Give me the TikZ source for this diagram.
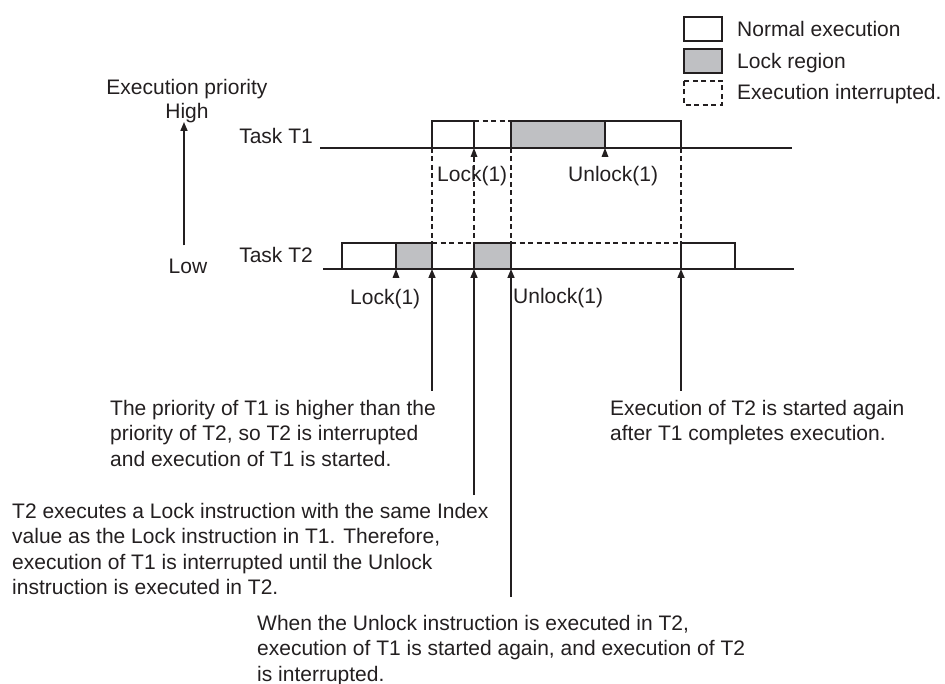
\documentclass[tikz,border=0pt]{standalone}
\usepackage{fontspec}
\setmainfont{Liberation Sans}
\usepackage{xcolor}
\usepackage{tikz}
\usetikzlibrary{arrows.meta, positioning}

\definecolor{lockgray}{RGB}{191,192,195}
\definecolor{ink}{RGB}{35,31,32}
\tikzstyle{arrow} = [line width=1.6pt, draw=ink, -{Triangle[length=9pt, width=7pt]}]
\tikzstyle{runbox} = [draw=ink, line width=1.7pt, fill=white]
\tikzstyle{lockbox} = [draw=ink, line width=1.7pt, fill=lockgray]
\tikzstyle{waitline} = [draw=ink, line width=1.7pt, dash pattern=on 5pt off 3.5pt]
\tikzstyle{timeline} = [draw=ink, line width=1.7pt]
\tikzstyle{note} = [anchor=north west, align=left]
\newcommand{\upmark}[1]{\fill[ink] (#1) -- ++(-3.5,9) -- ++(7,0) -- cycle;}

\begin{document}
\begin{tikzpicture}[x=1pt, y=-1pt, every node/.style={inner sep=0pt, text=ink, font=\fontsize{21}{25.5}\selectfont}]
\useasboundingbox (0,0) rectangle (945,684);

% Legend
\draw[runbox] (684,17) rectangle (722,41);
\draw[lockbox] (684,49) rectangle (722,73);
\draw[waitline] (684,81) rectangle (722,105);
\node (legrun) [anchor=base west] at (737,37) {Normal execution};
\node (leglock) [anchor=base west] at (737,69) {Lock region};
\node (legwait) [anchor=base west] at (737,100) {Execution interrupted.};

% Priority axis
\node (prio) [anchor=base] at (187,95) {Execution priority};
\node (high) [anchor=base] at (187,119) {High};
\node (low) [anchor=base] at (188,274) {Low};
\draw[arrow] (low.north -| 184,0) ++(0,-14) coordinate (lowtop) -- (184,122);

% Task T1
\node (t1) [anchor=base east] at (313,144) {Task T1};
\draw[runbox] (432,121) rectangle (474,148);
\draw[waitline] (474,121) -- (511,121);
\draw[lockbox] (511,121) rectangle (605,148);
\draw[runbox] (605,121) rectangle (681,148);
\draw[timeline] (320,148) -- (792,148);
\upmark{474,148}
\upmark{605,148}
\node (lock1) [anchor=base west] at (437,182) {Lock(1)};
\node (unlock1) [anchor=base west] at (568,182) {Unlock(1)};

% Task T2
\node (t2) [anchor=base east] at (313,263) {Task T2};
\draw[runbox] (342,243) rectangle (396,269);
\draw[lockbox] (396,243) rectangle (432,269);
\draw[waitline] (432,243) -- (474,243);
\draw[lockbox] (474,243) rectangle (511,269);
\draw[waitline] (511,243) -- (681,243);
\draw[runbox] (681,243) rectangle (735,269);
\draw[timeline] (323,269) -- (794,269);
\upmark{396,269}
\node (lock2) [anchor=base west] at (350,305) {Lock(1)};
\node (unlock2) [anchor=base west] at (513,304) {Unlock(1)};

% Interrupted spans
\draw[waitline] (432,148) -- (432,243);
\draw[waitline] (474,157) -- (474,243);
\draw[waitline] (511,148) -- (511,243);
\draw[waitline] (681,148) -- (681,243);

% Switch points on T2
\coordinate (sw1) at (432,269);
\coordinate (sw2) at (474,269);
\coordinate (sw3) at (511,269);
\coordinate (sw4) at (681,269);

% Notes
\node (note1) [note] at (110,400) {The priority of T1 is higher than the\\priority of T2, so T2 is interrupted\\and execution of T1 is started.};
\node (note2) [note] at (610,400) {Execution of T2 is started again\\after T1 completes execution.};
\node (note3) [note] at (12,503) {T2 executes a Lock instruction with the same Index\\value as the Lock instruction in T1. Therefore,\\execution of T1 is interrupted until the Unlock\\instruction is executed in T2.};
\node (note4) [note] at (257,615) {When the Unlock instruction is executed in T2,\\execution of T1 is started again, and execution of T2\\is interrupted.};

\draw[arrow] (note1.north -| sw1) ++(0,-9) -- (sw1);
\draw[arrow] (note3.north -| sw2) ++(0,-8) -- (sw2);
\draw[arrow] (note4.north -| sw3) ++(0,-18) -- (sw3);
\draw[arrow] (note2.north -| sw4) ++(0,-9) -- (sw4);
\end{tikzpicture}
\end{document}
